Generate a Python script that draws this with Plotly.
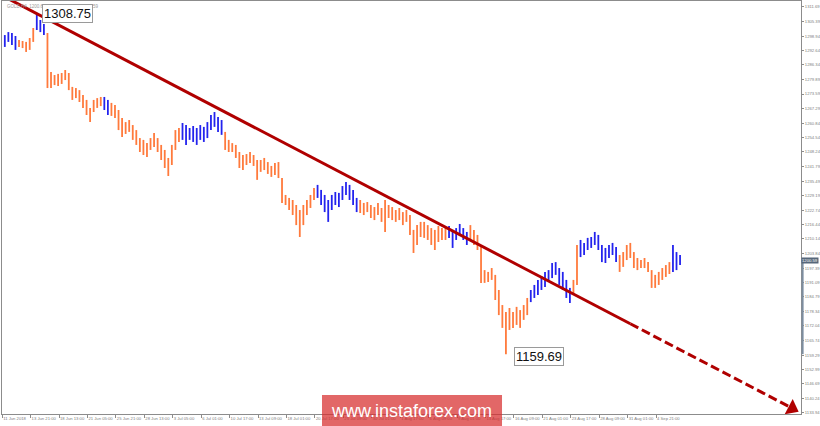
import plotly.graph_objects as go

### Data (one bar here = two H4 bars) ###

highs = [1299.4, 1300.7, 1300.3, 1299.0, 1297.2, 1296.8, 1296.4, 1298.1, 1302.5, 1308.75,
         1306.0, 1304.2, 1300.3, 1283.2, 1281.9, 1282.4, 1282.8, 1284.1, 1282.8, 1276.7,
         1276.2, 1275.3, 1273.2, 1271.0, 1267.5, 1271.0, 1271.8, 1272.3, 1272.3, 1271.0,
         1269.7, 1268.8, 1266.6, 1263.1, 1261.3, 1262.2, 1260.0, 1257.8, 1254.3, 1253.5,
         1252.1, 1254.3, 1256.5, 1254.3, 1251.3, 1249.1, 1245.6, 1251.3, 1257.8, 1258.7,
         1260.9, 1260.0, 1258.7, 1259.6, 1258.7, 1260.0, 1259.2, 1261.3, 1264.4, 1265.7,
         1263.5, 1262.2, 1257.0, 1253.5, 1252.1, 1251.3, 1248.2, 1246.9, 1247.3, 1248.2,
         1246.9, 1244.7, 1244.7, 1245.6, 1243.8, 1242.1, 1243.4, 1243.8, 1236.8, 1229.4,
         1228.1, 1227.2, 1225.0, 1222.8, 1225.0, 1227.2, 1229.4, 1232.4, 1233.8, 1231.6,
         1229.4, 1227.2, 1229.4, 1230.7, 1230.3, 1233.3, 1235.1, 1233.8, 1231.6, 1228.1,
         1227.2, 1225.9, 1226.3, 1225.0, 1224.1, 1225.9, 1223.7, 1227.2, 1225.0, 1224.1,
         1222.8, 1223.7, 1221.9, 1222.8, 1220.6, 1214.1, 1216.2, 1217.6, 1217.6, 1216.2,
         1214.9, 1214.1, 1215.8, 1214.9, 1214.9, 1215.8, 1214.1, 1214.9, 1216.7, 1214.9,
         1213.2, 1216.2, 1214.1, 1211.9, 1207.5, 1196.5, 1195.7, 1197.4, 1194.4, 1187.8,
         1181.2, 1178.2, 1179.9, 1178.2, 1180.4, 1179.0, 1181.2, 1184.3, 1187.8, 1190.0,
         1192.2, 1193.9, 1195.7, 1196.5, 1199.6, 1200.0, 1197.4, 1195.7, 1192.2, 1188.7,
         1192.2, 1207.5, 1209.7, 1208.4, 1210.6, 1211.0, 1213.2, 1211.9, 1207.5, 1206.2,
         1207.5, 1208.4, 1206.6, 1203.1, 1204.4, 1207.5, 1208.4, 1204.4, 1201.8, 1200.9,
         1201.8, 1200.0, 1196.5, 1194.4, 1195.7, 1197.4, 1198.7, 1200.0, 1207.5, 1204.4,
         1203.1]

lows = [1294.2, 1296.4, 1295.0, 1292.9, 1294.2, 1293.7, 1292.0, 1292.9, 1296.4, 1301.6,
        1300.7, 1299.4, 1276.2, 1276.2, 1277.5, 1277.1, 1278.0, 1279.7, 1275.3, 1271.0,
        1271.8, 1270.1, 1267.5, 1264.4, 1261.3, 1265.7, 1267.5, 1268.3, 1266.6, 1264.4,
        1264.0, 1263.1, 1257.8, 1254.8, 1256.1, 1257.0, 1253.5, 1251.3, 1248.2, 1246.9,
        1246.0, 1249.1, 1250.4, 1248.2, 1244.7, 1241.2, 1237.7, 1242.5, 1249.1, 1252.6,
        1253.5, 1251.3, 1253.5, 1252.6, 1251.3, 1253.5, 1252.6, 1254.3, 1257.8, 1259.2,
        1257.0, 1255.7, 1249.1, 1248.2, 1248.2, 1245.6, 1241.2, 1240.3, 1242.5, 1243.4,
        1242.1, 1236.0, 1239.5, 1240.3, 1238.6, 1237.3, 1238.1, 1236.8, 1225.9, 1225.0,
        1222.8, 1220.6, 1216.2, 1211.0, 1216.2, 1220.6, 1223.7, 1227.2, 1228.1, 1225.0,
        1221.9, 1217.6, 1222.8, 1225.0, 1224.1, 1227.2, 1229.4, 1227.2, 1225.0, 1221.9,
        1221.5, 1220.6, 1221.9, 1219.3, 1218.4, 1220.6, 1217.6, 1213.2, 1219.3, 1218.4,
        1217.6, 1218.4, 1216.2, 1217.6, 1211.9, 1204.0, 1207.5, 1211.0, 1210.6, 1209.7,
        1207.5, 1205.3, 1208.8, 1209.7, 1209.7, 1210.6, 1206.2, 1209.7, 1211.4, 1209.7,
        1207.5, 1209.7, 1207.5, 1205.3, 1190.9, 1190.9, 1191.3, 1192.2, 1183.4, 1176.8,
        1171.2, 1159.69, 1170.3, 1171.2, 1172.5, 1171.2, 1174.7, 1176.8, 1182.5, 1184.3,
        1185.6, 1187.8, 1189.1, 1191.3, 1193.0, 1194.4, 1190.0, 1187.8, 1184.3, 1182.1,
        1185.6, 1190.0, 1202.2, 1203.1, 1205.3, 1206.2, 1207.5, 1205.3, 1200.0, 1199.6,
        1201.8, 1203.1, 1200.0, 1195.7, 1197.9, 1200.9, 1201.8, 1197.4, 1196.5, 1197.4,
        1197.4, 1195.7, 1188.7, 1188.7, 1190.0, 1192.2, 1193.5, 1194.8, 1195.7, 1196.5,
        1198.7]

# runs of bars drawn in blue (first, last); everything else is orange
blue_runs = [(0, 3), (9, 11), (28, 29), (50, 61), (88, 99), (125, 130),
             (148, 159), (162, 172), (188, 190)]

high_bar, high_label = 9, "1308.75"
low_bar, low_label = 141, "1159.69"
last_price = 1200.59

# trend line anchors (bar, price): solid part, then the dashed projection
trend_x = [-1, 176]
trend_y = [1316.9, 1173.0]
proj_x = [176, 221]
proj_y = [1173.0, 1136.5]
arrow_x, arrow_y = 221.5, 1136.0

time_labels = ["11 Jun 2018", "13 Jun 21:00", "18 Jun 13:00", "21 Jun 05:00", "25 Jun 21:00",
               "28 Jun 13:00", "3 Jul 05:00", "6 Jul 01:00", "10 Jul 17:00", "13 Jul 09:00",
               "18 Jul 01:00", "20 Jul 17:00", "25 Jul 09:00", "30 Jul 01:00", "1 Aug 17:00",
               "6 Aug 09:00", "9 Aug 01:00", "13 Aug 17:00", "16 Aug 09:00", "21 Aug 01:00",
               "23 Aug 17:00", "28 Aug 09:00", "31 Aug 01:00", "4 Sep 21:00"]

price_ticks = [1311.69, 1305.39, 1298.94, 1292.64, 1286.34, 1279.89, 1273.59, 1267.29,
               1260.84, 1254.54, 1248.24, 1241.79, 1235.49, 1229.19, 1222.74, 1216.44,
               1210.14, 1203.84, 1197.39, 1191.09, 1184.79, 1178.34, 1172.04, 1165.74,
               1159.29, 1152.99, 1146.69, 1140.24, 1133.94]

# ~~~~~~~~~~~~~~~~~~~~~~~~~~~~~~~~~~~~~~~~~~~~~~~~~~~~~~~~~~~~~~~~~~~~~~~~~ #

ORANGE = "#FF7A3C"
BLUE = "#2323EE"
TREND = "#B00000"
GREY = "#8c8c8c"

blue_set = set()
for a, b in blue_runs:
    blue_set.update(range(a, b + 1))


def bar_segments(indices):
    xs, ys = [], []
    for i in indices:
        xs += [i, i, None]
        ys += [lows[i], highs[i], None]
    return xs, ys


fig = go.Figure()

bx, by = bar_segments([i for i in range(len(highs)) if i not in blue_set])
fig.add_trace(go.Scatter(x=bx, y=by, mode='lines', line=dict(color=ORANGE, width=1.8),
                         hoverinfo='skip'))
bx, by = bar_segments(sorted(blue_set))
fig.add_trace(go.Scatter(x=bx, y=by, mode='lines', line=dict(color=BLUE, width=1.8),
                         hoverinfo='skip'))

# trend line + projection
fig.add_trace(go.Scatter(x=trend_x, y=trend_y, mode='lines',
                         line=dict(color=TREND, width=3), hoverinfo='skip'))
fig.add_trace(go.Scatter(x=proj_x, y=proj_y, mode='lines',
                         line=dict(color=TREND, width=3, dash='9px,4px'), hoverinfo='skip'))
fig.add_trace(go.Scatter(x=[arrow_x], y=[arrow_y], mode='markers', cliponaxis=False,
                         marker=dict(symbol='triangle-right', size=15, angle=27.6,
                                     color=TREND), hoverinfo='skip'))

tick_pos = [8 * k - 0.75 for k in range(len(time_labels))]

fig.update_layout(
    width=820, height=426,
    margin=dict(l=2, r=19, t=1, b=12, autoexpand=False),
    paper_bgcolor='white', plot_bgcolor='white',
    showlegend=False,
    font=dict(family="Liberation Sans, Arial, sans-serif"),
)
fig.update_xaxes(range=[-0.79, 224.03], showgrid=False, zeroline=False, automargin=False,
                 showline=True, linecolor=GREY, linewidth=1, mirror=True,
                 tickvals=tick_pos, ticktext=time_labels, ticks='outside', ticklen=3,
                 tickcolor=GREY, ticklabelposition='outside right', tickangle=0,
                 tickfont=dict(size=4.2, color='#808080'))
fig.update_yaxes(range=[1133.50, 1314.31], side='right', showgrid=False, zeroline=False,
                 automargin=False, showline=True, linecolor=GREY, linewidth=1, mirror=True,
                 tickvals=price_ticks, ticktext=['{:.2f}'.format(v) for v in price_ticks],
                 ticks='outside', ticklen=2, tickcolor=GREY, tickangle=0,
                 tickfont=dict(size=4.2, color='#808080'))

# grey strip on the price scale between last price and the low
fig.add_shape(type='line', xref='paper', yref='y', x0=1.002, x1=1.002,
              y0=last_price, y1=1159.69, line=dict(color='#7d8ea0', width=2))

# watermark box
fig.add_shape(type='rect', xref='paper', yref='paper', x0=0.4005, x1=0.6258,
              y0=-0.03, y1=0.046, fillcolor='rgba(215,45,45,0.72)', line_width=0,
              layer='above')

fig.add_annotation(xref='paper', yref='paper', x=0.004, y=0.997, xanchor='left', yanchor='top',
                   text="GOLD,H4  1200.64 1201.46 1200.14 1200.59", showarrow=False,
                   font=dict(size=4.5, color='#999999'))
fig.add_annotation(x=high_bar, y=1308.75, xanchor='left', yanchor='middle', xshift=5,
                   text=high_label, showarrow=False, bgcolor='white', bordercolor='#9a9a9a',
                   borderwidth=1, borderpad=1, font=dict(size=13, color='#111111'))
fig.add_annotation(x=low_bar, y=1159.69, xanchor='left', yanchor='middle', xshift=8, yshift=-2,
                   text=low_label, showarrow=False, bgcolor='white', bordercolor='#9a9a9a',
                   borderwidth=1, borderpad=1, font=dict(size=13, color='#111111'))
fig.add_annotation(xref='paper', x=1.0, y=last_price, xanchor='left', yanchor='middle',
                   text='{:.2f}'.format(last_price), showarrow=False, bgcolor='#56677a',
                   borderpad=0, font=dict(size=4.2, color='white'))
fig.add_annotation(xref='paper', yref='paper', x=0.513, y=0.008, xanchor='center',
                   yanchor='middle', text="www.instaforex.com", showarrow=False,
                   font=dict(size=18, color='white'))

# the page body has a default 8px margin; drop it so the chart sits at the window corner
fig.write_html("out.html", config={'displayModeBar': False},
               post_script="document.body.style.margin='0';document.body.style.overflow='hidden';")
